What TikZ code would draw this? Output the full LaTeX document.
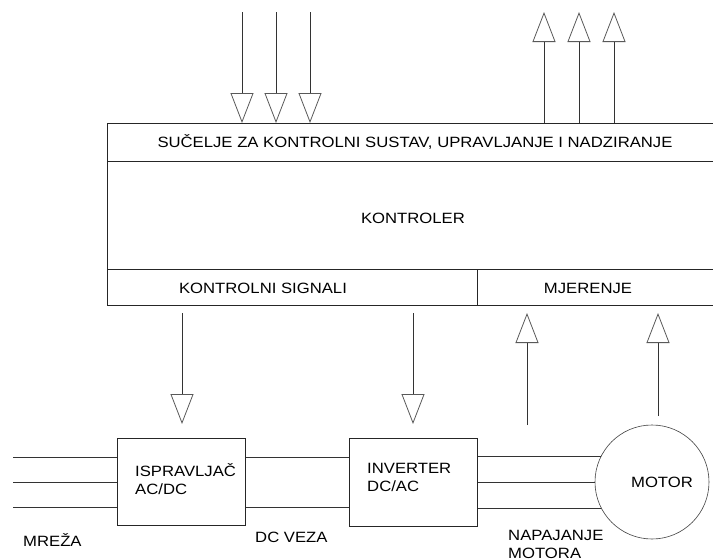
\documentclass[tikz,border=0pt]{standalone}
\usepackage{fontspec}
\setmainfont[FakeStretch=1.12]{Liberation Sans}
\newfontfamily\lblfont[FakeStretch=1.12]{Liberation Sans}
\newcommand{\lbl}{\lblfont\fontsize{14.9}{18}\selectfont}
\usetikzlibrary{arrows.meta}
\begin{document}
\begin{tikzpicture}[x=1pt,y=-1pt,
  ln/.style={draw=black!80, line width=0.8pt},
  box/.style={draw=black!85, line width=0.8pt, rectangle, inner sep=0pt, anchor=north west},
  arr/.style={ln, -{Triangle[open, length=30pt, width=23pt, color=black!65]}},
  txt/.style={inner sep=0pt, font=\lbl},
]
\useasboundingbox (0,0) rectangle (713,560);
\clip (0,0) rectangle (713,560);

% main controller block
\node[box, minimum width=613pt, minimum height=38pt] (suc) at (107,123) {};
\node[box, minimum width=613pt, minimum height=108pt] (kon) at (107,161) {};
\node[box, minimum width=370pt, minimum height=36pt] (sig) at (107,269) {};
\node[box, minimum width=243pt, minimum height=36pt] (mje) at (477,269) {};

\node[txt] (tsuc) at (415,142) {SUČELJE ZA KONTROLNI SUSTAV, UPRAVLJANJE I NADZIRANJE};
\node[txt] (tkon) at (413,218) {KONTROLER};
\node[txt] (tsig) at (263,288) {KONTROLNI SIGNALI};
\node[txt] (tmje) at (588,288) {MJERENJE};

% top arrows
\coordinate (a1) at (242,12);
\coordinate (a2) at (276,12);
\coordinate (a3) at (310,12);
\draw[arr] (a1) -- (a1 |- suc.north);
\draw[arr] (a2) -- (a2 |- suc.north);
\draw[arr] (a3) -- (a3 |- suc.north);
\coordinate (b1) at (544,12);
\coordinate (b2) at (579,12);
\coordinate (b3) at (614,12);
\draw[arr] (b1 |- suc.north) -- (b1);
\draw[arr] (b2 |- suc.north) -- (b2);
\draw[arr] (b3 |- suc.north) -- (b3);

% power blocks
\node[box, minimum width=128pt, minimum height=87pt] (isp) at (117,438) {};
\node[box, minimum width=128pt, minimum height=88pt] (inv) at (349,438) {};
\node[draw=black!75, line width=0.6pt, circle, minimum size=114pt, inner sep=0pt] (mot) at (652,482) {};

\node[txt, anchor=west, align=left] (tisp) at (135,479) {ISPRAVLJAČ\\AC/DC};
\node[txt, anchor=west, align=left] (tinv) at (367,477) {INVERTER\\DC/AC};
\node[txt] (tmot) at (662,482) {MOTOR};
\node[txt, anchor=west] (tmre) at (23,540) {MREŽA};
\node[txt, anchor=west] (tdc) at (255,537) {DC VEZA};
\node[txt, anchor=west, align=left] (tnap) at (508,544) {NAPAJANJE\\MOTORA};

% lower arrows
\coordinate (c1s) at (182,313);
\coordinate (c1e) at (182,424);
\coordinate (c2s) at (413,313);
\coordinate (c2e) at (413,424);
\draw[arr] (c1s) -- (c1e);
\draw[arr] (c2s) -- (c2e);
\coordinate (e1s) at (527,425);
\coordinate (e1e) at (527,313);
\coordinate (e2s) at (658,416);
\coordinate (e2e) at (658,313);
\draw[arr] (e1s) -- (e1e);
\draw[arr] (e2s) -- (e2e);

% three-phase / DC lines
\coordinate (m1) at (13,457);
\coordinate (m2) at (13,482);
\coordinate (m3) at (13,507);
\draw[ln] (m1) -- (m1 -| isp.west);
\draw[ln] (m2) -- (m2 -| isp.west);
\draw[ln] (m3) -- (m3 -| isp.west);
\draw[ln] (isp.east |- m1) -- (inv.west |- m1);
\draw[ln] (isp.east |- m3) -- (inv.west |- m3);
\draw[ln] (inv.east |- mot.153) -- (mot.153);
\draw[ln] (inv.east |- mot.west) -- (mot.west);
\draw[ln] (inv.east |- mot.207) -- (mot.207);
\end{tikzpicture}
\end{document}
